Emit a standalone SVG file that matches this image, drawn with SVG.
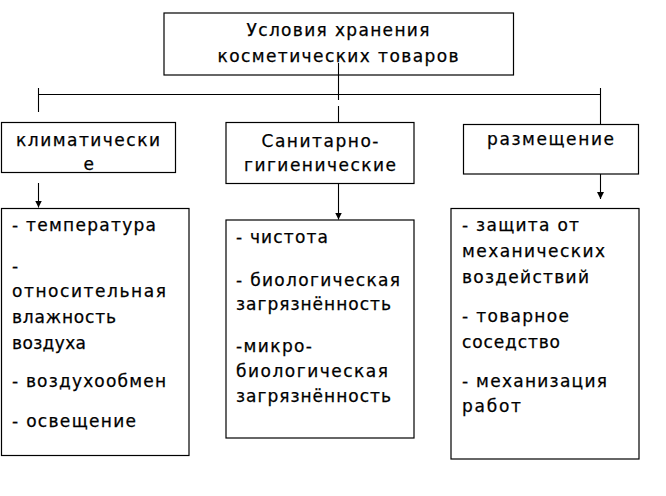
<svg xmlns="http://www.w3.org/2000/svg" width="666" height="496" viewBox="0 0 666 496">
<style>
.box{fill:#fff;stroke:#000;stroke-width:1.2}
.t{font-family:"DejaVu Sans","Noto Sans",sans-serif;font-size:17px;fill:#000;stroke:#000;stroke-width:0.25}
.c{text-anchor:middle}
.ln{stroke:#000;stroke-width:1.1;fill:none}
</style>
<defs>
<marker id="ah" viewBox="0 0 7 7" refX="7" refY="3.5" markerWidth="7" markerHeight="7" markerUnits="userSpaceOnUse" orient="auto">
<path d="M0,0 L7,3.5 L0,7 z" fill="#000"/>
</marker>
</defs>
<rect width="666" height="496" fill="#fff"/>

<g id="root">
<rect class="box" x="164" y="13" width="349.5" height="62"/>
<text class="t c" x="338" y="36" textLength="183" lengthAdjust="spacing">Условия хранения</text>
<text class="t c" x="338" y="62" textLength="241" lengthAdjust="spacing">косметических товаров</text>
</g>

<g id="connectors">
<line class="ln" x1="338.5" y1="63" x2="338.5" y2="100"/>
<line class="ln" x1="338.5" y1="106" x2="338.5" y2="122.5"/>
<line class="ln" x1="38.5" y1="94.5" x2="600.5" y2="94.5"/>
<line class="ln" x1="38.5" y1="88" x2="38.5" y2="112"/>
<line class="ln" x1="600.5" y1="88" x2="600.5" y2="124"/>
<line class="ln" x1="38.5" y1="183" x2="38.5" y2="207.5" marker-end="url(#ah)"/>
<line class="ln" x1="338.5" y1="183.5" x2="338.5" y2="219.5" marker-end="url(#ah)"/>
<line class="ln" x1="600.5" y1="174" x2="600.5" y2="199" marker-end="url(#ah)"/>
</g>

<g id="climate">
<rect class="box" x="1.5" y="122.5" width="174" height="50"/>
<text class="t" x="16" y="146" textLength="144" lengthAdjust="spacing">климатически</text>
<text class="t c" x="88.7" y="170">е</text>
</g>

<g id="sanitary">
<rect class="box" x="226" y="122.5" width="188" height="61"/>
<text class="t c" x="320" y="147" textLength="117" lengthAdjust="spacing">Санитарно-</text>
<text class="t c" x="320" y="171" textLength="152" lengthAdjust="spacing">гигиенические</text>
</g>

<g id="placement">
<rect class="box" x="463.5" y="124.5" width="175" height="49.5"/>
<text class="t c" x="550.5" y="145" textLength="127" lengthAdjust="spacing">размещение</text>
</g>

<g id="climate-list">
<rect class="box" x="1.5" y="208.5" width="187.5" height="247"/>
<text class="t" x="12" y="231" textLength="144" lengthAdjust="spacing">- температура</text>
<text class="t" x="12" y="272">-</text>
<text class="t" x="12" y="297" textLength="154" lengthAdjust="spacing">относительная</text>
<text class="t" x="12" y="323" textLength="104" lengthAdjust="spacing">влажность</text>
<text class="t" x="12" y="349" textLength="74" lengthAdjust="spacing">воздуха</text>
<text class="t" x="12" y="387" textLength="154" lengthAdjust="spacing">- воздухообмен</text>
<text class="t" x="12" y="427" textLength="124" lengthAdjust="spacing">- освещение</text>
</g>

<g id="sanitary-list">
<rect class="box" x="226" y="220" width="188" height="218"/>
<text class="t" x="236" y="243" textLength="92" lengthAdjust="spacing">- чистота</text>
<text class="t" x="236" y="286" textLength="164" lengthAdjust="spacing">- биологическая</text>
<text class="t" x="236" y="310" textLength="155" lengthAdjust="spacing">загрязнённость</text>
<text class="t" x="236" y="352" textLength="76" lengthAdjust="spacing">-микро-</text>
<text class="t" x="236" y="377" textLength="152" lengthAdjust="spacing">биологическая</text>
<text class="t" x="236" y="402" textLength="155" lengthAdjust="spacing">загрязнённость</text>
</g>

<g id="placement-list">
<rect class="box" x="451" y="208.5" width="188" height="250.5"/>
<text class="t" x="462" y="231" textLength="117" lengthAdjust="spacing">- защита от</text>
<text class="t" x="462" y="257" textLength="143" lengthAdjust="spacing">механических</text>
<text class="t" x="462" y="283" textLength="127" lengthAdjust="spacing">воздействий</text>
<text class="t" x="462" y="322" textLength="107" lengthAdjust="spacing">- товарное</text>
<text class="t" x="462" y="348" textLength="98" lengthAdjust="spacing">соседство</text>
<text class="t" x="462" y="387" textLength="145" lengthAdjust="spacing">- механизация</text>
<text class="t" x="462" y="412" textLength="59" lengthAdjust="spacing">работ</text>
</g>
</svg>
